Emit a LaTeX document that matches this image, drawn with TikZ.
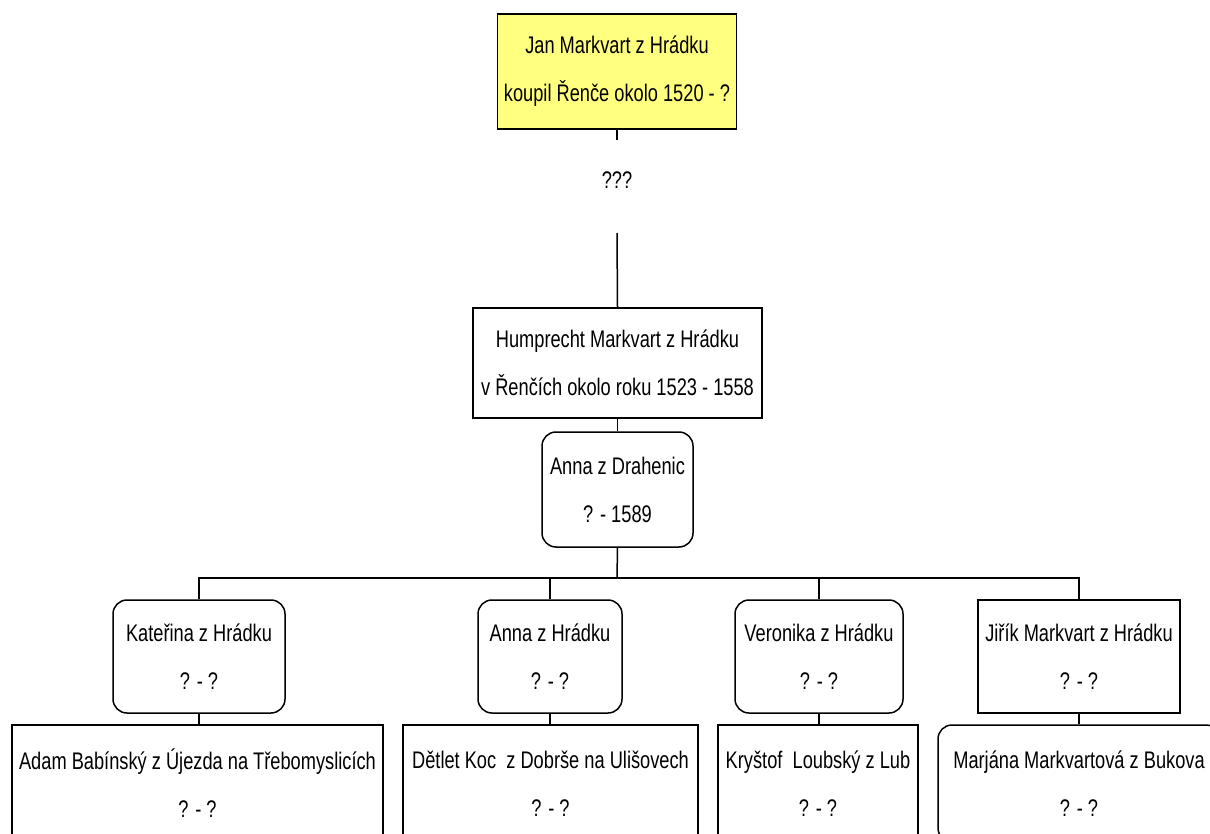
\documentclass[tikz,border=0pt]{standalone}
\usepackage{fontspec}
\setmainfont{Liberation Sans}[FakeStretch=0.76]
\usepackage{tikz}
\definecolor{founderyellow}{RGB}{255,255,128}
\tikzset{
  person/.style={draw, line width=1.5pt, inner sep=0pt, align=center,
    font=\fontsize{24}{48}\selectfont},
  wife/.style={person, rounded corners=14pt},
  link/.style={line width=1.5pt}
}

\begin{document}
\begin{tikzpicture}[x=1pt,y=-1pt]
  \path[use as bounding box] (0,0) rectangle (1210,834);
  \clip (0,0) rectangle (1210,834);

  \node[person, fill=founderyellow, minimum width=239pt, minimum height=115pt] (jan) at (617,71.5)
    {Jan Markvart z Hrádku\\koupil Řenče okolo 1520 - ?};
  \coordinate (tick) at (617,140);
  \node[font=\fontsize{24}{28}\selectfont] (unknown) at (617,180) {???};
  \coordinate (gap) at (617,233);

  \node[person, minimum width=289pt, minimum height=110pt] (humprecht) at (617.5,363)
    {Humprecht Markvart z Hrádku\\v Řenčích okolo roku 1523 - 1558};
  \node[wife, minimum width=151pt, minimum height=115pt] (annaD) at (617.5,489.5)
    {Anna z Drahenic\\? - 1589};
  \coordinate (bar) at (617,578);

  \node[wife, minimum width=172pt, minimum height=113pt] (katerina) at (199,656.5)
    {Kateřina z Hrádku\\? - ?};
  \node[wife, minimum width=144pt, minimum height=113pt] (annaH) at (550,656.5)
    {Anna z Hrádku\\? - ?};
  \node[wife, minimum width=168pt, minimum height=113pt] (veronika) at (819,656.5)
    {Veronika z Hrádku\\? - ?};
  \node[person, minimum width=202pt, minimum height=113pt] (jirik) at (1079,656.5)
    {Jiřík Markvart z Hrádku\\? - ?};

  \node[person, minimum width=371pt, minimum height=117pt] (adam) at (197.5,783.5)
    {Adam Babínský z Újezda na Třebomyslicích\\? - ?};
  \node[person, minimum width=295pt, minimum height=117pt] (detlet) at (550.5,783.5)
    {Dětlet Koc\ \ z Dobrše na Ulišovech\\? - ?};
  \node[person, minimum width=200pt, minimum height=117pt] (krystof) at (818,783.5)
    {Kryštof\ \ Loubský z Lub\\? - ?};
  \node[wife, minimum width=282pt, minimum height=117pt] (marjana) at (1079,783.5)
    {Marjána Markvartová z Bukova\\? - ?};

  \draw[link] (jan.south) -- (tick);
  \draw[link] (gap) -- (humprecht.north);
  \draw[link] (humprecht.south) -- (annaD.north);
  \draw[link] (annaD.south) -- (bar);
  \draw[link] (katerina.north) -- (katerina.north |- bar) -- (jirik.north |- bar) -- (jirik.north);
  \draw[link] (annaH.north) -- (annaH.north |- bar);
  \draw[link] (veronika.north) -- (veronika.north |- bar);
  \draw[link] (katerina.south) -- (adam.north -| katerina.south);
  \draw[link] (annaH.south) -- (detlet.north -| annaH.south);
  \draw[link] (veronika.south) -- (krystof.north -| veronika.south);
  \draw[link] (jirik.south) -- (marjana.north -| jirik.south);
\end{tikzpicture}
\end{document}
